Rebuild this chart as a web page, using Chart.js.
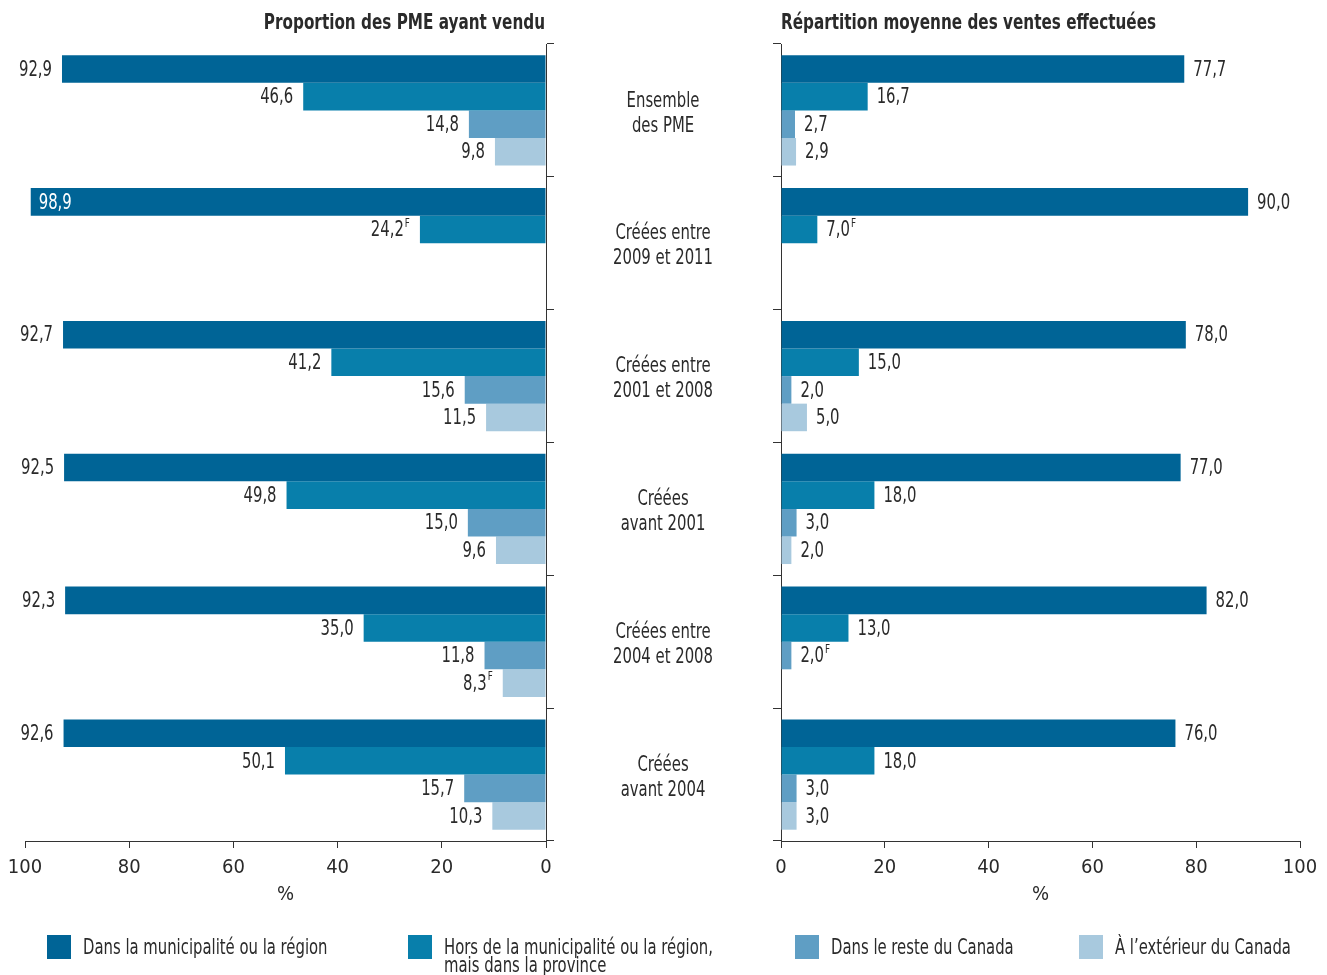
<!DOCTYPE html>
<html lang="fr">
<head>
<meta charset="UTF-8">
<title>Ventes des PME selon le marché</title>
<script src="https://cdn.jsdelivr.net/npm/chart.js"></script>
<style>
  body { margin: 0; background: #fff; }
  #wrap { position: relative; width: 1327px; height: 975px; overflow: hidden; }
  #wrap canvas { position: absolute; left: 0; top: 0; }
  .leg { position: absolute; top: 935px; display: flex; align-items: flex-start;
         font: 22px 'DejaVu Sans Condensed', 'DejaVu Sans', sans-serif; color: #2a2a2a; }
  .leg .box { width: 24px; height: 24px; margin-right: 12px; flex: none; }
  .leg .txt { line-height: 18px; white-space: pre; padding-top: 3px;
              transform: scaleX(0.75); transform-origin: 0 0; }
</style>
</head>
<body>
<div id="wrap">
  <canvas id="leftChart" width="1327" height="975"></canvas>
  <canvas id="rightChart" width="1327" height="975"></canvas>
</div>

<script>
// categories shown between the two panels
const categories = [
  ['Ensemble', 'des PME'],
  ['Créées entre', '2009 et 2011'],
  ['Créées entre', '2001 et 2008'],
  ['Créées', 'avant 2001'],
  ['Créées entre', '2004 et 2008'],
  ['Créées', 'avant 2004']
];
const seriesNames = [
  'Dans la municipalité ou la région',
  'Hors de la municipalité ou la région,\nmais dans la province',
  'Dans le reste du Canada',
  'À l’extérieur du Canada'
];
const colors = ['#006496', '#087fab', '#5f9ec4', '#a8c9de'];
const xTicks = [0, 20, 40, 60, 80, 100];

// Proportion des PME ayant vendu (%)
const propMunicipalite = [92.9, 98.9, 92.7, 92.5, 92.3, 92.6];
const propProvince     = [46.6, 24.2, 41.2, 49.8, 35.0, 50.1];
const propCanada       = [14.8, null, 15.6, 15.0, 11.8, 15.7];
const propExterieur    = [9.8, null, 11.5, 9.6, 8.3, 10.3];
const propNotes = [
  ['', '', '', '', '', ''],
  ['', 'F', '', '', '', ''],
  ['', '', '', '', '', ''],
  ['', '', '', '', 'F', '']
];

// Répartition moyenne des ventes effectuées (%)
const repMunicipalite = [77.7, 90.0, 78.0, 77.0, 82.0, 76.0];
const repProvince     = [16.7, 7.0, 15.0, 18.0, 13.0, 18.0];
const repCanada       = [2.7, null, 2.0, 3.0, 2.0, 3.0];
const repExterieur    = [2.9, null, 5.0, 2.0, null, 3.0];
const repNotes = [
  ['', '', '', '', '', ''],
  ['', 'F', '', '', '', ''],
  ['', '', '', '', 'F', ''],
  ['', '', '', '', '', '']
];

const fontName = "'DejaVu Sans Condensed', 'DejaVu Sans', sans-serif";
const textColor = '#2a2a2a';
const lineColor = '#333';
const squeeze = 0.75; // the original uses a condensed face

function fmt(v) { return v.toFixed(1).replace('.', ','); }

// measure / draw narrowed text
function textWidth(ctx, txt, font) {
  ctx.font = font;
  return ctx.measureText(txt).width * squeeze;
}
function drawText(ctx, txt, x, y, font, align, sx) {
  sx = sx || squeeze;
  ctx.font = font;
  const w = ctx.measureText(txt).width * sx;
  let left = x;
  if (align === 'center') left = x - w / 2;
  else if (align === 'right') left = x - w;
  ctx.save();
  ctx.translate(left, y);
  ctx.scale(sx, 1);
  ctx.textAlign = 'left';
  ctx.textBaseline = 'middle';
  ctx.fillText(txt, 0, 0);
  ctx.restore();
}

function makeDatasets(series) {
  return series.map((data, k) => ({
    label: seriesNames[k],
    data: data,
    backgroundColor: colors[k],
    borderWidth: 0,
    categoryPercentage: 0.83,
    barPercentage: 1.0
  }));
}

// value labels next to bar ends, with superscript note
function valueLabels(notes, side) {
  const big = '22px ' + fontName, small = '13px ' + fontName;
  return {
    id: 'valueLabels',
    afterDatasetsDraw(chart) {
      const ctx = chart.ctx;
      chart.data.datasets.forEach((ds, d) => {
        chart.getDatasetMeta(d).data.forEach((bar, i) => {
          const v = ds.data[i];
          if (v == null) return;
          const txt = fmt(v);
          const note = notes[d][i];
          const w = textWidth(ctx, txt, big);
          const wn = note ? textWidth(ctx, note, small) + 1 : 0;
          let x, color = textColor;
          if (side === 'left') {
            x = bar.x - 10 - w - wn;
            if (x < chart.chartArea.left - 20) { x = bar.x + 8; color = '#fff'; }
          } else {
            x = bar.x + 9;
          }
          ctx.fillStyle = color;
          drawText(ctx, txt, x, bar.y + 1, big, 'left');
          if (note) drawText(ctx, note, x + w + 1, bar.y - 6, small, 'left');
        });
      });
    }
  };
}

function panelTitle(text, align) {
  return {
    id: 'panelTitle',
    afterDraw(chart) {
      const ctx = chart.ctx, a = chart.chartArea;
      ctx.fillStyle = textColor;
      drawText(ctx, text, align === 'right' ? a.right - 1 : a.left, 23, 'bold 22px ' + fontName, align, 0.77);
    }
  };
}

const categoryLabels = {
  id: 'categoryLabels',
  afterDraw(chart) {
    const ctx = chart.ctx, ys = chart.scales.y;
    const cx = chart.chartArea.right + 117;
    ctx.fillStyle = textColor;
    categories.forEach((lines, i) => {
      const y = ys.getPixelForValue(i);
      lines.forEach((l, k) => {
        drawText(ctx, l, cx, y + 3 + (k - (lines.length - 1) / 2) * 25, '22px ' + fontName, 'center');
      });
    });
  }
};

function xScale(reverse) {
  return {
    type: 'linear',
    reverse: reverse,
    min: 0, max: 100,
    afterBuildTicks: s => { s.ticks = xTicks.map(v => ({ value: v })); },
    afterFit: s => { s.height = 70; },
    grid: { drawOnChartArea: false, drawTicks: true, tickLength: 7, color: lineColor },
    border: { display: true, color: lineColor, width: 1 },
    ticks: { font: { family: fontName, size: 20 }, color: textColor, padding: 8, maxRotation: 0 },
    title: { display: true, text: '%', font: { family: fontName, size: 20 }, color: textColor, padding: { top: 0, bottom: 4 } }
  };
}

function yScale(position) {
  return {
    type: 'category',
    position: position,
    offset: true,
    afterFit: s => { s.width = 8; },
    grid: { offset: true, drawOnChartArea: false, drawTicks: true, tickLength: 8, color: lineColor },
    border: { display: true, color: lineColor, width: 1 },
    ticks: { display: false }
  };
}

const labels = categories.map(c => c.join(' '));
const common = {
  responsive: false,
  animation: false,
  indexAxis: 'y',
  plugins: { legend: { display: false }, tooltip: { enabled: false }, title: { display: false } }
};

new Chart(document.getElementById('leftChart'), {
  type: 'bar',
  data: { labels: labels, datasets: makeDatasets([propMunicipalite, propProvince, propCanada, propExterieur]) },
  options: Object.assign({}, common, {
    layout: { padding: { left: 25, right: 773, top: 44, bottom: 64 } },
    scales: { x: xScale(true), y: yScale('right') }
  }),
  plugins: [valueLabels(propNotes, 'left'), panelTitle('Proportion des PME ayant vendu', 'right'), categoryLabels]
});

new Chart(document.getElementById('rightChart'), {
  type: 'bar',
  data: { labels: labels, datasets: makeDatasets([repMunicipalite, repProvince, repCanada, repExterieur]) },
  options: Object.assign({}, common, {
    layout: { padding: { left: 773, right: 27, top: 44, bottom: 64 } },
    scales: { x: xScale(false), y: yScale('left') }
  }),
  plugins: [valueLabels(repNotes, 'right'), panelTitle('Répartition moyenne des ventes effectuées', 'left')]
});

// legend
const legendLeft = [47, 408, 795, 1079];
const wrap = document.getElementById('wrap');
seriesNames.forEach((name, k) => {
  const item = document.createElement('div');
  item.className = 'leg';
  item.style.left = legendLeft[k] + 'px';
  const box = document.createElement('span');
  box.className = 'box';
  box.style.background = colors[k];
  const txt = document.createElement('span');
  txt.className = 'txt';
  txt.textContent = name;
  item.appendChild(box);
  item.appendChild(txt);
  wrap.appendChild(item);
});
</script>
</body>
</html>
